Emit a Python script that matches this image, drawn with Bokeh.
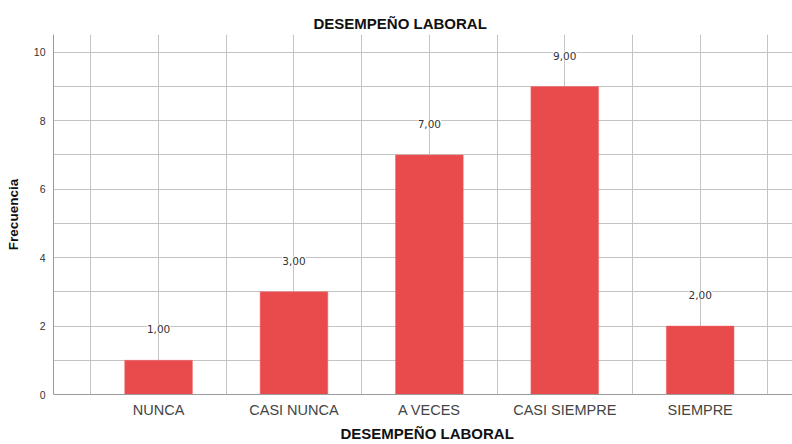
from bokeh.plotting import figure
from bokeh.models import ColumnDataSource, Range1d, FixedTicker, LabelSet, Title
from bokeh.core.properties import value
from bokeh.embed import file_html
from bokeh.resources import INLINE

# Frequency table for "DESEMPEÑO LABORAL"
categories = ["NUNCA", "CASI NUNCA", "A VECES", "CASI SIEMPRE", "SIEMPRE"]
frequencies = [1, 3, 7, 9, 2]
y_ticks = [0, 2, 4, 6, 8, 10]

positions = list(range(1, len(categories) + 1))
value_text = [f"{v:.2f}".replace(".", ",") for v in frequencies]

source = ColumnDataSource(data=dict(x=positions, top=frequencies, label=value_text))

FONT = "Liberation Sans"

p = figure(width=792, height=444, output_backend="svg", toolbar_location=None,
           x_range=Range1d(0.224, 5.682), y_range=Range1d(0, 10.52),
           min_border_left=53, min_border_right=0, min_border_top=34,
           min_border_bottom=49)
p.outline_line_color = None
p.background_fill_color = "white"
p.border_fill_color = "white"

# chart title
p.title.text = "DESEMPEÑO LABORAL"
p.title.align = "left"
p.title.offset = 260
p.title.standoff = 5
p.title.text_font = FONT
p.title.text_font_size = "15px"
p.title.text_font_style = "bold"
p.title.text_color = "#111111"

# grid: every half category and every unit of frequency
p.xgrid.ticker = FixedTicker(ticks=[0.5 * i for i in range(1, 12)])
p.ygrid.ticker = FixedTicker(ticks=list(range(1, 11)))
for g in (p.xgrid, p.ygrid):
    g.grid_line_color = "#c4c4c4"
    g.grid_line_width = 1

# bars
p.vbar(x="x", top="top", width=0.5, source=source,
       fill_color="#E94A4C", line_color="#F06A6C", line_width=0.5)

# value labels above each bar
labels = LabelSet(x="x", y="top", text="label", source=source,
                  y_offset=31, text_align="center", text_baseline="middle",
                  text_font=value("DejaVu Sans"), text_font_size="10.5px",
                  text_color="#333333", background_fill_color="white")
p.add_layout(labels)

# axes
for ax in (p.xaxis, p.yaxis):
    ax.major_tick_line_color = None
    ax.minor_tick_line_color = None
    ax.major_tick_out = 0
    ax.major_tick_in = 0
    ax.axis_line_color = "#9a9a9a"
    ax.major_label_text_font = FONT
    ax.axis_label_text_font = FONT
    ax.axis_label_text_font_style = "bold"
    ax.axis_label_text_color = "#111111"

p.xaxis.ticker = FixedTicker(ticks=positions)
p.xaxis.major_label_overrides = {pos: cat for pos, cat in zip(positions, categories)}
p.xaxis.major_label_standoff = 7
p.xaxis.major_label_text_font_size = "14.5px"
p.xaxis.major_label_text_color = "#444444"

p.yaxis.ticker = FixedTicker(ticks=y_ticks)
p.yaxis.major_label_standoff = 8
p.yaxis.major_label_text_font_size = "10.5px"
p.yaxis.major_label_text_color = "#333333"
p.yaxis.axis_label = "Frecuencia"
p.yaxis.axis_label_text_font_size = "13.5px"
p.yaxis.axis_label_standoff = 10

# category axis title, under the tick labels
p.add_layout(Title(text="DESEMPEÑO LABORAL", align="left", offset=287,
                   standoff=5, text_font=FONT, text_font_size="15px",
                   text_font_style="bold", text_color="#111111"), "below")

open("out.html", "w").write(file_html(p, INLINE))
